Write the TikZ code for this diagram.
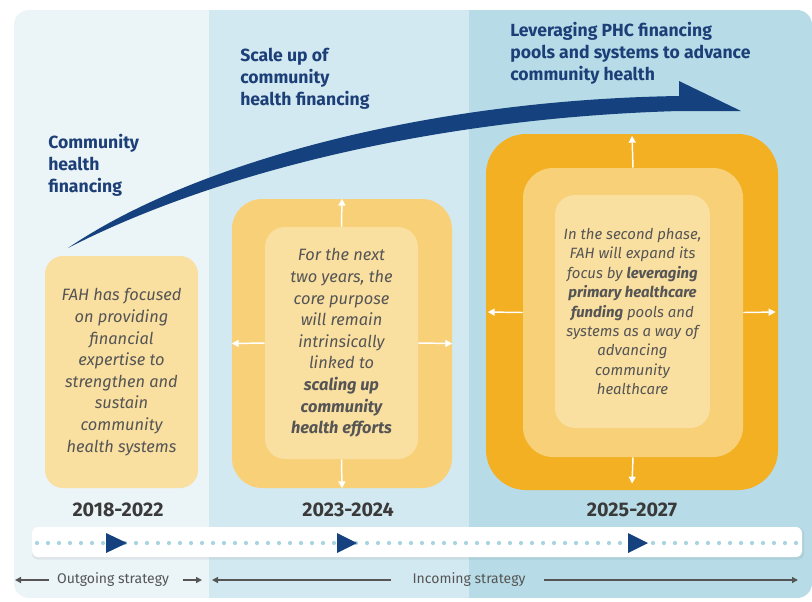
\documentclass[tikz,border=0pt]{standalone}
\usepackage{fontspec}
\setmainfont{Fira Sans}
\usetikzlibrary{arrows.meta}
\definecolor{colL}{HTML}{EBF4F7}
\definecolor{colM}{HTML}{D3E9F1}
\definecolor{colR}{HTML}{B7DCE7}
\definecolor{ylight}{HTML}{F9DFA0}
\definecolor{ymid}{HTML}{F8D078}
\definecolor{yorange}{HTML}{F2B022}
\definecolor{dblue}{HTML}{15427F}
\definecolor{hblue}{HTML}{1D3F78}
\definecolor{txtgray}{HTML}{555555}
\definecolor{yeargray}{HTML}{3A3A3A}
\definecolor{dotblue}{HTML}{A9D5E1}
\definecolor{linegray}{HTML}{555555}
\newdimen\pxu \pxu=0.75pt
\begin{document}
\begin{tikzpicture}[x=0.75pt,y=-0.75pt,
  ybox/.style={inner sep=0pt, align=center, text=txtgray},
  heading/.style={inner sep=0pt, anchor=north west, align=left, text=hblue,
     font=\fontsize{13.2}{16.3}\selectfont\bfseries},
  bodyA/.style={font=\fontsize{12.3}{16.2}\selectfont\itshape},
  bodyB/.style={font=\fontsize{11.2}{14.6}\selectfont\itshape},
  yearlbl/.style={inner sep=0pt, text=yeargray, font=\fontsize{14.8}{16}\selectfont\bfseries},
  warrow/.style={draw=white, line width=1.1pt, -{Triangle[width=5.2pt,length=5.2pt]}},
  garrow/.style={draw=linegray, line width=1pt, -{Triangle[width=4.5pt,length=4.5pt]}},
  strat/.style={text=linegray, inner ysep=0pt, font=\fontsize{10.5}{12}\selectfont}
]
\useasboundingbox (0,0) rectangle (812,601);
\fill[white] (0,0) rectangle (812,601);
% background columns
\begin{scope}
\clip[rounded corners=15\pxu] (14,10) rectangle (812,598);
\fill[colL] (14,10) rectangle (209,598);
\fill[colM] (209,10) rectangle (469,598);
\fill[colR] (469,10) rectangle (812,598);
\end{scope}

% curved arrow
\fill[dblue] (68,248) .. controls (190,165) and (420,100) .. (679,96)
  -- (679,81) -- (741,111) -- (679,111)
  .. controls (430,118) and (210,175) .. (68,248) -- cycle;

% headings
\node[heading] (h1) at (48,134) {Community\\health\\financing};
\node[heading] (h2) at (240,48) {Scale up of\\community\\health financing};
\node[heading] (h3) at (510,22) {Leveraging PHC financing\\pools and systems to advance\\community health};

% left box
\node[ybox, bodyA, fill=ylight, rounded corners=18\pxu, minimum width=153\pxu, minimum height=232\pxu] (lb) at (121.5,372)
 {FAH has focused\\on providing\\financial\\expertise to\\strengthen and\\sustain\\community\\health systems};

% middle box
\node[fill=ymid, rounded corners=30\pxu, minimum width=220\pxu, minimum height=289\pxu] (mo) at (342,343.5) {};
\node[ybox, bodyA, fill=ylight, rounded corners=20\pxu, minimum width=153\pxu, minimum height=232\pxu] (mi) at (341.5,343)
 {For the next\\two years, the\\core purpose\\will remain\\intrinsically\\linked to\\\textbf{scaling up}\\\textbf{community}\\\textbf{health efforts}};
\draw[warrow] (mi.north) -- (mo.north);
\draw[warrow] (mi.south) -- (mo.south);
\draw[warrow] (mi.west) -- (mo.west);
\draw[warrow] (mi.east) -- (mo.east);

% right box
\node[fill=yorange, rounded corners=40\pxu, minimum width=292\pxu, minimum height=356\pxu] (ro) at (632,312) {};
\node[fill=ymid, rounded corners=30\pxu, minimum width=220\pxu, minimum height=289\pxu] (rm) at (633,312.5) {};
\node[ybox, bodyB, fill=ylight, rounded corners=20\pxu, minimum width=155\pxu, minimum height=233\pxu] (ri) at (632.5,311.5)
 {In the second phase,\\FAH will expand its\\focus by \textbf{leveraging}\\\textbf{primary healthcare}\\\textbf{funding} pools and\\systems as a way of\\advancing\\community\\healthcare};
\draw[warrow] (rm.north) -- ([yshift=-1.5pt]ro.north);
\draw[warrow] (rm.south) -- ([yshift=5pt]ro.south);
\draw[warrow] (rm.west) -- ([xshift=1.5pt]ro.west);
\draw[warrow] (rm.east) -- ([xshift=-2pt]ro.east);

% years
\node[yearlbl] (y1) at (118,510) {2018-2022};
\node[yearlbl] (y2) at (348,510) {2023-2024};
\node[yearlbl] (y3) at (632,510) {2025-2027};

% timeline bar
\node[fill=black, opacity=0.06, rounded corners=6\pxu, minimum width=772\pxu, minimum height=32\pxu] (barsh) at (418,543.5) {};
\node[fill=white, rounded corners=6\pxu, minimum width=770\pxu, minimum height=30\pxu] (bar) at (417,542) {};
\foreach \x in {37,48,...,800} \fill[dotblue] (\x,543) circle[radius=1.6pt];
\fill[dblue] (106,533) -- (127,543) -- (106,553) -- cycle;
\fill[dblue] (337,533) -- (357,543) -- (337,553) -- cycle;
\fill[dblue] (628,533) -- (648,543) -- (628,553) -- cycle;

% strategy labels
\node[strat, inner xsep=6pt] (og) at (113,580) {Outgoing strategy};
\node[strat, inner xsep=16pt] (ic) at (469,580) {Incoming strategy};
\coordinate (ogL) at (15,580);
\coordinate (ogR) at (202,580);
\coordinate (icL) at (212,580);
\coordinate (icR) at (798,580);
\draw[garrow] (og.west) -- (ogL);
\draw[garrow] ([xshift=4pt]og.east) -- (ogR);
\draw[garrow] (ic.west) -- (icL);
\draw[garrow] ([xshift=-2pt]ic.east) -- (icR);
\end{tikzpicture}
\end{document}
